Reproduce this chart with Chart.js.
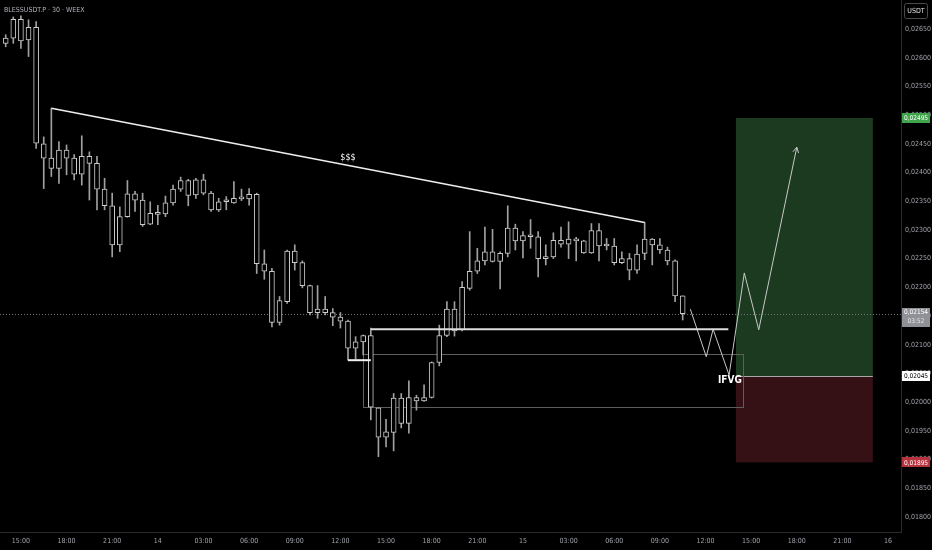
<!DOCTYPE html>
<html>
<head>
<meta charset="utf-8">
<script src="https://cdn.jsdelivr.net/npm/chart.js@4.4.1/dist/chart.umd.min.js"></script>
<style>
  html, body { margin: 0; padding: 0; background: #000; }
  canvas { display: block; }
</style>
</head>
<body>
<canvas id="chart" width="932" height="550"></canvas>
<script>
// 30m candles, BLESSUSDT.P (first candle = 13th 14:00)
const opens  = [0.02625,0.02634,0.02667,0.02631,0.02653,0.02450,0.02407,0.02407,0.02439,0.02425,
                0.02397,0.02428,0.02416,0.02371,0.02342,0.02274,0.02323,0.02363,0.02352,0.02310,
                0.02329,0.02328,0.02347,0.02371,0.02386,0.02361,0.02387,0.02364,0.02335,0.02349,
                0.02347,0.02355,0.02354,0.02362,0.02241,0.02228,0.02139,0.02175,0.02263,0.02243,
                0.02203,0.02156,0.02162,0.02156,0.02148,0.02141,0.02094,0.02105,0.02116,0.01990,
                0.01939,0.01947,0.02007,0.01963,0.02008,0.02002,0.02008,0.02069,0.02116,0.02162,
                0.02126,0.02198,0.02228,0.02246,0.02262,0.02245,0.02259,0.02303,0.02281,0.02290,
                0.02288,0.02250,0.02253,0.02282,0.02275,0.02284,0.02281,0.02260,0.02299,0.02272,
                0.02272,0.02243,0.02250,0.02230,0.02259,0.02284,0.02274,0.02265,0.02246,0.02185];
const highs  = [0.02640,0.02671,0.02673,0.02666,0.02663,0.02462,0.02512,0.02454,0.02448,0.02431,
                0.02464,0.02436,0.02428,0.02390,0.02364,0.02340,0.02386,0.02367,0.02364,0.02349,
                0.02343,0.02359,0.02378,0.02392,0.02388,0.02390,0.02397,0.02367,0.02355,0.02358,
                0.02384,0.02371,0.02372,0.02364,0.02265,0.02233,0.02184,0.02265,0.02274,0.02246,
                0.02204,0.02203,0.02184,0.02163,0.02156,0.02143,0.02114,0.02117,0.02129,0.01990,
                0.01970,0.02015,0.02015,0.02037,0.02012,0.02030,0.02070,0.02134,0.02175,0.02175,
                0.02210,0.02297,0.02268,0.02305,0.02301,0.02262,0.02342,0.02310,0.02297,0.02318,
                0.02297,0.02274,0.02295,0.02305,0.02314,0.02287,0.02282,0.02311,0.02311,0.02285,
                0.02285,0.02262,0.02259,0.02274,0.02313,0.02285,0.02285,0.02270,0.02248,0.02185];
const lows   = [0.02619,0.02625,0.02616,0.02602,0.02442,0.02372,0.02393,0.02381,0.02396,0.02387,
                0.02378,0.02352,0.02335,0.02335,0.02253,0.02262,0.02322,0.02332,0.02306,0.02309,
                0.02309,0.02323,0.02343,0.02367,0.02342,0.02355,0.02361,0.02332,0.02332,0.02335,
                0.02346,0.02351,0.02343,0.02224,0.02214,0.02131,0.02134,0.02172,0.02230,0.02199,
                0.02152,0.02146,0.02152,0.02133,0.02129,0.02073,0.02075,0.02082,0.01969,0.01905,
                0.01922,0.01915,0.01955,0.01946,0.01986,0.02001,0.02007,0.02063,0.02114,0.02115,
                0.02124,0.02195,0.02224,0.02239,0.02244,0.02197,0.02253,0.02265,0.02251,0.02268,
                0.02218,0.02239,0.02250,0.02270,0.02250,0.02246,0.02259,0.02259,0.02246,0.02265,
                0.02239,0.02241,0.02213,0.02224,0.02248,0.02239,0.02259,0.02239,0.02175,0.02143];
const closes = [0.02634,0.02667,0.02629,0.02653,0.02451,0.02425,0.02425,0.02439,0.02425,0.02397,
                0.02428,0.02416,0.02371,0.02342,0.02274,0.02323,0.02363,0.02352,0.02309,0.02329,
                0.02327,0.02347,0.02371,0.02386,0.02360,0.02387,0.02364,0.02335,0.02349,0.02350,
                0.02355,0.02354,0.02362,0.02241,0.02228,0.02139,0.02177,0.02263,0.02243,0.02203,
                0.02156,0.02162,0.02156,0.02148,0.02141,0.02094,0.02105,0.02116,0.01991,0.01939,
                0.01948,0.02007,0.01963,0.02008,0.02002,0.02008,0.02069,0.02116,0.02162,0.02124,
                0.02200,0.02228,0.02246,0.02262,0.02245,0.02259,0.02303,0.02281,0.02290,0.02288,
                0.02250,0.02253,0.02282,0.02275,0.02284,0.02281,0.02260,0.02299,0.02272,0.02274,
                0.02243,0.02250,0.02230,0.02258,0.02284,0.02274,0.02265,0.02246,0.02185,0.02154];

// time axis labels, one every 6 candles starting at candle 2
const timeLabels = ["15:00","18:00","21:00","14","03:00","06:00","09:00","12:00","15:00","18:00",
                    "21:00","15","03:00","06:00","09:00","12:00","15:00","18:00","21:00","16"];
const priceTicks = [0.018,0.0185,0.019,0.0195,0.020,0.0205,0.021,0.0215,0.022,0.0225,
                    0.023,0.0235,0.024,0.0245,0.025,0.0255,0.026,0.0265];

// drawings (candle index / price)
const trendX = [6, 84];
const trendY = [0.02512, 0.02313];
const sweepX = [48, 95];
const sweepY = 0.02127;
const lowX = [45, 48];
const lowY = 0.02073;
const fvgX = [47, 97];
const fvgY = [0.02084, 0.01991];
const pathX = [90, 92.1, 93, 95.1, 97.1, 99, 104];
const pathY = [0.02162, 0.02079, 0.02127, 0.02047, 0.02225, 0.02126, 0.02444];
const posX = [96, 114];
const targetPrice = 0.02495, entryPrice = 0.02045, stopPrice = 0.01895;
const lastPrice = 0.02154;

const FONT = "'Liberation Sans Narrow','DejaVu Sans Condensed','Liberation Sans',sans-serif";
const fmt = v => v.toFixed(5).replace('.', ',');

const wicks = highs.map((h, i) => ({ x: i, y: [lows[i], h] }));
const bodies = opens.map((o, i) => ({ x: i, y: [o, closes[i]] }));

const drawings = {
  id: 'drawings',
  beforeDatasetsDraw(chart) {
    const { ctx, chartArea: a, scales: { x, y } } = chart;
    ctx.save();
    // long position
    const x0 = x.getPixelForValue(posX[0]), x1 = x.getPixelForValue(posX[1]);
    const yt = y.getPixelForValue(targetPrice), ye = y.getPixelForValue(entryPrice), ys = y.getPixelForValue(stopPrice);
    ctx.fillStyle = '#1c3a1f';
    ctx.fillRect(x0, yt, x1 - x0, ye - yt);
    ctx.fillStyle = '#351015';
    ctx.fillRect(x0, ye, x1 - x0, ys - ye);
    ctx.strokeStyle = '#a8a8a8';
    ctx.lineWidth = 1;
    ctx.beginPath(); ctx.moveTo(x0, Math.round(ye) + 0.5); ctx.lineTo(x1, Math.round(ye) + 0.5); ctx.stroke();
    // fvg box
    const fx0 = x.getPixelForValue(fvgX[0]), fx1 = x.getPixelForValue(fvgX[1]);
    const fy0 = y.getPixelForValue(fvgY[0]), fy1 = y.getPixelForValue(fvgY[1]);
    ctx.strokeStyle = '#5e5e5e';
    ctx.strokeRect(Math.round(fx0) + 0.5, Math.round(fy0) + 0.5, Math.round(fx1 - fx0), Math.round(fy1 - fy0));
    // last price dotted line
    const yl = Math.round(y.getPixelForValue(lastPrice)) + 0.5;
    ctx.strokeStyle = '#707070';
    ctx.setLineDash([1, 2]);
    ctx.beginPath(); ctx.moveTo(a.left, yl); ctx.lineTo(a.right, yl); ctx.stroke();
    ctx.restore();
  },
  afterDatasetsDraw(chart) {
    const { ctx, scales: { x, y } } = chart;
    ctx.save();
    // arrow head
    const n = pathX.length;
    const px = x.getPixelForValue(pathX[n - 1]), py = y.getPixelForValue(pathY[n - 1]);
    const qx = x.getPixelForValue(pathX[n - 2]), qy = y.getPixelForValue(pathY[n - 2]);
    const ang = Math.atan2(py - qy, px - qx);
    ctx.strokeStyle = '#c8c8c8';
    ctx.lineWidth = 1;
    ctx.beginPath();
    ctx.moveTo(px - 6 * Math.cos(ang - 0.5), py - 6 * Math.sin(ang - 0.5));
    ctx.lineTo(px, py);
    ctx.lineTo(px - 6 * Math.cos(ang + 0.5), py - 6 * Math.sin(ang + 0.5));
    ctx.stroke();
    // labels
    ctx.fillStyle = '#ffffff';
    ctx.textAlign = 'center';
    ctx.textBaseline = 'middle';
    ctx.font = '9px ' + FONT;
    ctx.fillText('$$$', x.getPixelForValue(45), y.getPixelForValue(0.02425));
    ctx.font = 'bold 10px ' + FONT;
    ctx.fillText('IFVG', x.getPixelForValue(95.2), y.getPixelForValue(0.02037));
    ctx.restore();
  },
  afterDraw(chart) {
    const { ctx, scales: { y } } = chart;
    ctx.save();
    ctx.textBaseline = 'middle';
    ctx.font = '7px ' + FONT;
    ctx.textAlign = 'left';
    ctx.fillStyle = '#b2b5be';
    ctx.fillText('BLESSUSDT.P · 30 · WEEX', 4, 10);
    // currency box
    ctx.strokeStyle = '#4a4a4a';
    ctx.lineWidth = 1;
    ctx.beginPath(); ctx.roundRect(904.5, 3.5, 23, 15, 2); ctx.stroke();
    ctx.fillStyle = '#e0e0e0';
    ctx.textAlign = 'center';
    ctx.fillText('USDT', 916, 11.5);
    ctx.font = '6.5px ' + FONT;
    const tag = (price, bg, fg, h) => {
      const cy = y.getPixelForValue(price);
      ctx.fillStyle = bg;
      ctx.fillRect(902, Math.round(cy - h / 2), 28, h);
      ctx.fillStyle = fg;
      ctx.textAlign = 'center';
      ctx.fillText(fmt(price), 916, cy + 0.5);
    };
    tag(targetPrice, '#3fa54a', '#ffffff', 10);
    tag(entryPrice, '#ffffff', '#000000', 10);
    tag(stopPrice, '#b8323d', '#ffffff', 10);
    // last price with countdown
    const cy = y.getPixelForValue(lastPrice);
    ctx.fillStyle = '#8f9197';
    ctx.fillRect(902, Math.round(cy - 6), 28, 19);
    ctx.fillStyle = '#ffffff';
    ctx.fillText(fmt(lastPrice), 916, cy - 1);
    ctx.fillStyle = '#e6e6e6';
    ctx.fillText('03:52', 916, cy + 7.5);
    ctx.restore();
  }
};

new Chart(document.getElementById('chart'), {
  type: 'bar',
  data: {
    datasets: [
      {
        type: 'line', order: 0,
        data: trendX.map((v, i) => ({ x: v, y: trendY[i] })),
        borderColor: '#eeeeee', borderWidth: 1.5, pointRadius: 0
      },
      {
        type: 'line', order: 0,
        data: sweepX.map(v => ({ x: v, y: sweepY })),
        borderColor: '#dcdcdc', borderWidth: 2, pointRadius: 0
      },
      {
        type: 'line', order: 0,
        data: lowX.map(v => ({ x: v, y: lowY })),
        borderColor: '#f0f0f0', borderWidth: 2, pointRadius: 0
      },
      {
        type: 'line', order: 0,
        data: pathX.map((v, i) => ({ x: v, y: pathY[i] })),
        borderColor: '#c8c8c8', borderWidth: 1, pointRadius: 0
      },
      {
        label: 'body', order: 1,
        data: bodies,
        backgroundColor: '#000000',
        borderColor: '#cccccc',
        borderWidth: 1,
        borderSkipped: false,
        barThickness: 5,
        minBarLength: 2,
        grouped: false
      },
      {
        label: 'wick', order: 2,
        data: wicks,
        backgroundColor: '#a0a0a0',
        borderWidth: 0,
        barThickness: 1,
        grouped: false
      }
    ]
  },
  options: {
    responsive: false,
    animation: false,
    events: [],
    layout: { padding: 0 },
    plugins: { legend: { display: false }, tooltip: { enabled: false } },
    scales: {
      x: {
        type: 'linear',
        offset: false,
        min: -0.75,
        max: 117.7,
        grid: { display: false, drawTicks: false, tickLength: 0 },
        border: { display: true, color: '#2a2a2a' },
        afterBuildTicks: s => { s.ticks = timeLabels.map((_, k) => ({ value: 2 + 6 * k })); },
        afterFit: s => { s.height = 18; s.paddingLeft = 0; s.paddingRight = 0; },
        ticks: {
          autoSkip: false,
          maxRotation: 0,
          padding: 5,
          color: '#a0a3ab',
          font: { family: FONT, size: 7 },
          callback: (v, k) => timeLabels[k]
        }
      },
      y: {
        position: 'right',
        min: 0.017737,
        max: 0.027005,
        grid: { display: false, drawTicks: false, tickLength: 0 },
        border: { display: true, color: '#2a2a2a' },
        afterBuildTicks: s => { s.ticks = priceTicks.map(v => ({ value: v })); },
        afterFit: s => { s.width = 31; s.paddingTop = 0; s.paddingBottom = 0; },
        ticks: {
          padding: 4,
          color: '#a0a3ab',
          font: { family: FONT, size: 7 },
          callback: v => fmt(v)
        }
      }
    }
  },
  plugins: [drawings]
});
</script>
</body>
</html>
